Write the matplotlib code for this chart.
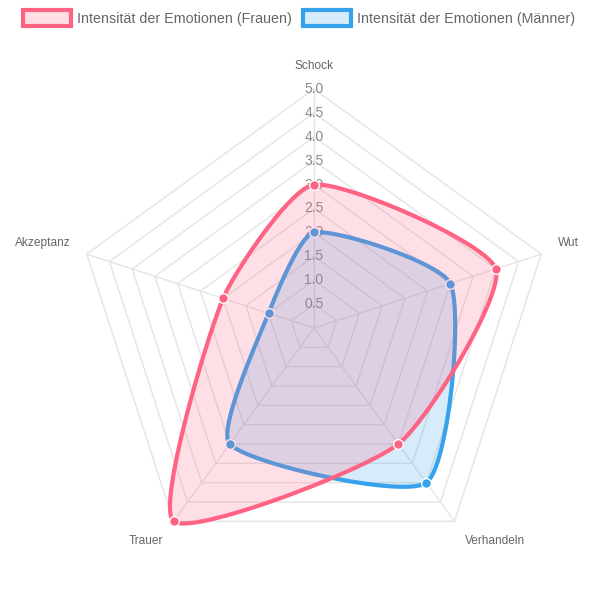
import numpy as np
import matplotlib.pyplot as plt
from matplotlib.patches import Patch

plt.rcParams['font.family'] = ['Liberation Sans', 'DejaVu Sans']

# Data
labels = ['Schock', 'Wut', 'Verhandeln', 'Trauer', 'Akzeptanz']
frauen = [3, 4, 3, 5, 2]
maenner = [2, 3, 4, 3, 1]
ticks = [0.5, 1.0, 1.5, 2.0, 2.5, 3.0, 3.5, 4.0, 4.5, 5.0]
series_names = ['Intensität der Emotionen (Frauen)', 'Intensität der Emotionen (Männer)']

pink = '#ff6384'
blue = '#36a2eb'
grid_col = '#e4e4e4'
text_col = '#666666'
tension = 0.2

n = len(labels)
ang = np.pi / 2 - np.arange(n) * 2 * np.pi / n


def xy(vals):
    vals = np.asarray(vals, dtype=float)
    return vals * np.cos(ang), vals * np.sin(ang)


def spline_path(vals, t=tension, steps=40):
    # closed curve like Chart.js splineCurve
    px, py = xy(vals)
    pts = np.column_stack([px, py])
    cps = []
    for i in range(n):
        prev, cur, nxt = pts[i - 1], pts[i], pts[(i + 1) % n]
        d01 = np.hypot(*(cur - prev))
        d12 = np.hypot(*(nxt - cur))
        fa = t * d01 / (d01 + d12)
        fb = t * d12 / (d01 + d12)
        cps.append((cur - fa * (nxt - prev), cur + fb * (nxt - prev)))
    out = []
    s = np.linspace(0, 1, steps)[:, None]
    for i in range(n):
        p0 = pts[i]
        p3 = pts[(i + 1) % n]
        c1 = cps[i][1]
        c2 = cps[(i + 1) % n][0]
        seg = ((1 - s) ** 3) * p0 + 3 * ((1 - s) ** 2) * s * c1 + 3 * (1 - s) * s ** 2 * c2 + s ** 3 * p3
        out.append(seg)
    out = np.vstack(out)
    return out[:, 0], out[:, 1]


fig = plt.figure(figsize=(5.98, 6.0), dpi=100)
ax = fig.add_axes([0, 0, 1, 1])
scale = 239 / 5.0  # px per unit
cx, cy = 314, 328
ax.set_xlim(-cx / scale, (598 - cx) / scale)
ax.set_ylim(-(600 - cy) / scale, cy / scale)
ax.set_aspect('equal')
ax.axis('off')

# grid pentagons and angle lines
for tv in ticks:
    gx, gy = xy([tv] * n)
    ax.plot(np.append(gx, gx[0]), np.append(gy, gy[0]), color=grid_col, lw=1, zorder=1)
ox, oy = xy([5] * n)
for i in range(n):
    ax.plot([0, ox[i]], [0, oy[i]], color=grid_col, lw=1, zorder=1)

# tick labels (under datasets)
for tv in ticks:
    ax.text(0, tv, f'{tv:.1f}', ha='center', va='center', fontsize=10, color='#8a8a8a', zorder=2)

# point labels
lx, ly = xy([256 / scale] * n)
for i, lab in enumerate(labels):
    c, s_ = np.cos(ang[i]), np.sin(ang[i])
    ha = 'left' if c > 0.1 else ('right' if c < -0.1 else 'center')
    va = 'bottom' if s_ > 0 else 'top'
    ax.text(lx[i], ly[i], lab, ha=ha, va=va, fontsize=8.6, color=text_col, zorder=2)

# datasets: Männer first, Frauen on top
for vals, col, z in [(maenner, blue, 3), (frauen, pink, 5)]:
    sx, sy = spline_path(vals)
    ax.fill(sx, sy, color=col, alpha=0.2, lw=0, zorder=z)
    ax.plot(np.append(sx, sx[0]), np.append(sy, sy[0]), color=col, lw=3, zorder=z, solid_capstyle='round')
    px, py = xy(vals)
    ax.plot(px, py, 'o', ms=7, color=col, mec='white', mew=1, zorder=z + 0.5)

handles = [Patch(facecolor=(1, 0.388, 0.518, 0.2), edgecolor=pink, lw=3),
           Patch(facecolor=(0.212, 0.635, 0.922, 0.2), edgecolor=blue, lw=3)]
leg = fig.legend(handles, series_names, loc='upper center', bbox_to_anchor=(0.5, 1.0), ncol=2,
                 frameon=False, fontsize=10.3, handlelength=3.4, handleheight=1.3,
                 handletextpad=0.4, columnspacing=0.75, borderaxespad=0.3)
for txt in leg.get_texts():
    txt.set_color(text_col)

fig.savefig('out.png', dpi=100)
